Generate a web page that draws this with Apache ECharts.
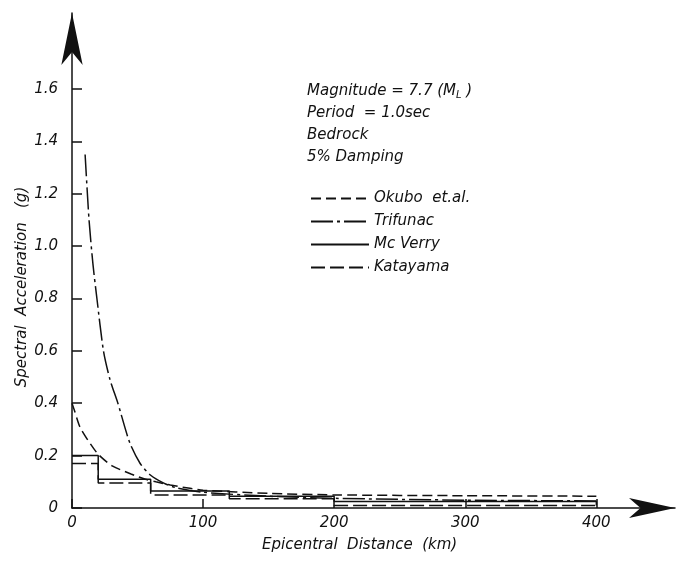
<!DOCTYPE html>
<html>
<head>
<meta charset="utf-8">
<script src="https://cdn.jsdelivr.net/npm/echarts@6/dist/echarts.min.js"></script>
<style>
  html, body { margin: 0; padding: 0; background: #fff; }
  #chart { width: 677px; height: 562px; }
</style>
</head>
<body>
<div id="chart"></div>
<script>
// Spectral acceleration attenuation with epicentral distance (km, g)
const xTicks = [0, 100, 200, 300, 400];
const yTicks = [0, 0.2, 0.4, 0.6, 0.8, 1.0, 1.2, 1.4, 1.6];

const okuboDist = [0, 2, 6, 12, 20, 31, 45, 56, 64, 75, 90, 100, 150, 200, 300, 400];
const okuboAcc  = [0.40, 0.37, 0.31, 0.26, 0.205, 0.16, 0.13, 0.11, 0.10, 0.088, 0.075, 0.068, 0.056, 0.05, 0.047, 0.045];

const trifunacDist = [10, 13, 16, 19, 24, 29, 35, 44, 52, 60, 70, 79, 100, 150, 200, 300, 400];
const trifunacAcc  = [1.35, 1.1, 0.93, 0.8, 0.6, 0.49, 0.4, 0.25, 0.17, 0.125, 0.095, 0.078, 0.06, 0.045, 0.037, 0.03, 0.027];

const mcverryDist = [0, 20, 20, 60, 60, 120, 120, 200, 200, 400, 400];
const mcverryAcc  = [0.2, 0.2, 0.11, 0.11, 0.065, 0.065, 0.045, 0.045, 0.025, 0.025, 0.01];

const katayamaDist = [0, 20, 20, 60, 60, 120, 120, 200, 200, 400];
const katayamaAcc  = [0.17, 0.17, 0.095, 0.095, 0.05, 0.05, 0.035, 0.035, 0.01, 0.01];

const pairs = (xs, ys) => xs.map((x, i) => [x, ys[i]]);

const FONT = 'DejaVu Sans';
const INK = '#111';

const chart = echarts.init(document.getElementById('chart'), null, { renderer: 'canvas' });

function lineSeries(name, xs, ys, type, smooth) {
  return {
    name: name,
    type: 'line',
    data: pairs(xs, ys),
    symbol: 'none',
    smooth: smooth || false,
    silent: true,
    lineStyle: { color: INK, width: 1.5, type: type },
    itemStyle: { color: INK }
  };
}

chart.setOption({
  animation: false,
  backgroundColor: '#fff',
  grid: { left: 72, top: 13, width: 603, height: 495 },
  xAxis: {
    type: 'value', min: 0, max: 460, interval: 100,
    splitLine: { show: false },
    axisLine: { show: true, lineStyle: { color: INK, width: 1.5 },
      symbol: ['none', 'arrow'], symbolSize: [15, 46] },
    axisTick: { show: true, inside: true, length: 9, customValues: xTicks,
      lineStyle: { color: INK, width: 1.5 } },
    axisLabel: { customValues: xTicks, margin: 8, color: INK,
      fontFamily: FONT, fontStyle: 'italic', fontSize: 15 }
  },
  yAxis: {
    type: 'value', min: 0, max: 1.89, interval: 0.2,
    splitLine: { show: false },
    axisLine: { show: true, lineStyle: { color: INK, width: 1.5 },
      symbol: ['none', 'arrow'], symbolSize: [16, 52] },
    axisTick: { show: true, inside: true, length: 10, customValues: yTicks,
      lineStyle: { color: INK, width: 1.5 } },
    axisLabel: { customValues: yTicks, margin: 14, color: INK,
      fontFamily: FONT, fontStyle: 'italic', fontSize: 15,
      formatter: v => (v === 0 ? '0' : v.toFixed(1)) }
  },
  legend: {
    orient: 'vertical', left: 305, top: 186, itemGap: 8,
    itemWidth: 58, itemHeight: 14,
    itemStyle: { opacity: 0 },
    textStyle: { color: INK, fontFamily: FONT, fontStyle: 'italic', fontSize: 15 },
    data: ['Okubo  et.al.', 'Trifunac', 'Mc Verry', 'Katayama']
  },
  series: [
    lineSeries('Okubo  et.al.', okuboDist, okuboAcc, [10, 5], 0.25),
    lineSeries('Trifunac', trifunacDist, trifunacAcc, [22, 4, 3, 4], 0.25),
    lineSeries('Mc Verry', mcverryDist, mcverryAcc, 'solid'),
    lineSeries('Katayama', katayamaDist, katayamaAcc, [14, 5])
  ],
  graphic: [
    {
      type: 'text', left: 307, top: 82,
      style: {
        text: '{t|Magnitude = 7.7 (M}{s|L}{t| )}\n{t|Period  = 1.0sec}\n{t|Bedrock}\n{t|5% Damping}',
        rich: {
          t: { fontFamily: FONT, fontStyle: 'italic', fontSize: 15, fill: INK, lineHeight: 22 },
          s: { fontFamily: FONT, fontStyle: 'italic', fontSize: 10, fill: INK, lineHeight: 22, padding: [8, 0, 0, 0] }
        }
      }
    },
    {
      type: 'text', left: 262, top: 538,
      style: { text: 'Epicentral  Distance  (km)', fontFamily: FONT, fontStyle: 'italic',
        fontSize: 15, fill: INK }
    },
    {
      type: 'text', x: 22, y: 287, rotation: Math.PI / 2,
      style: { text: 'Spectral  Acceleration   (g)', fontFamily: FONT, fontStyle: 'italic',
        fontSize: 15, fill: INK, align: 'center', verticalAlign: 'middle' }
    }
  ]
});
</script>
</body>
</html>
